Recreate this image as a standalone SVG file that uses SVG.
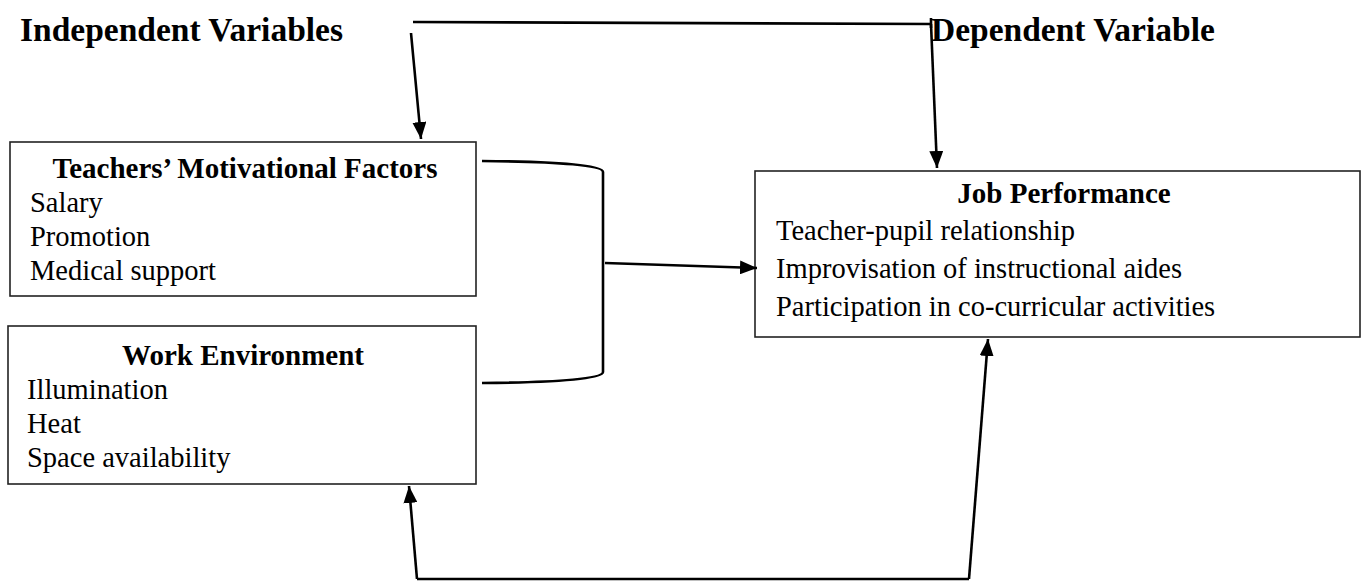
<svg xmlns="http://www.w3.org/2000/svg" width="1365" height="584" viewBox="0 0 1365 584">
<defs>
<marker id="ah" viewBox="0 0 17 14" refX="17" refY="7" markerWidth="17" markerHeight="14" markerUnits="userSpaceOnUse" orient="auto">
<path d="M0,0 L17,7 L0,14 Z" fill="#000"/>
</marker>
<style>
.box{fill:#fff;stroke:#222;stroke-width:1.6}
.ln{fill:none;stroke:#000;stroke-width:2.6}
.arr{fill:none;stroke:#000;stroke-width:2.6;marker-end:url(#ah)}
.lbl{font-family:"Liberation Serif","Times New Roman",serif;font-weight:bold;font-size:33.5px;fill:#000}
.hd{font-family:"Liberation Serif","Times New Roman",serif;font-weight:bold;font-size:29px;fill:#000;text-anchor:middle}
.tx{font-family:"Liberation Serif","Times New Roman",serif;font-size:28.5px;fill:#000}
</style>
</defs>
<rect width="1365" height="584" fill="#fff"/>
<text class="lbl" x="20" y="41">Independent Variables</text>
<text class="lbl" x="931" y="41">Dependent Variable</text>
<g id="motivation">
<rect class="box" x="10" y="142" width="466" height="154"/>
<text class="hd" x="245" y="178">Teachers’ Motivational Factors</text>
<text class="tx" x="30" y="212">Salary</text>
<text class="tx" x="30" y="246">Promotion</text>
<text class="tx" x="30" y="280">Medical support</text>
</g>
<g id="environment">
<rect class="box" x="8" y="326" width="468" height="158"/>
<text class="hd" x="243" y="365">Work Environment</text>
<text class="tx" x="27" y="399">Illumination</text>
<text class="tx" x="27" y="433">Heat</text>
<text class="tx" x="27" y="467">Space availability</text>
</g>
<g id="performance">
<rect class="box" x="755" y="171" width="605" height="166"/>
<text class="hd" x="1064" y="203">Job Performance</text>
<text class="tx" x="776" y="240">Teacher-pupil relationship</text>
<text class="tx" x="776" y="278">Improvisation of instructional aides</text>
<text class="tx" x="776" y="316">Participation in co-curricular activities</text>
</g>
<g id="connectors">
<path class="ln" d="M413,22 L931,24"/>
<path class="ln" d="M931,18 L931,28" stroke-width="1.5"/>
<path class="arr" d="M411,33 L421,139"/>
<path class="arr" d="M931,24 L937,168"/>
<path class="ln" d="M482,161 Q603,162 603,172 L603,372 Q603,382 482,383"/>
<path class="arr" d="M605,263 L757,268"/>
<path class="ln" d="M417,579 L969,579"/>
<path class="arr" d="M417,579 L409,486"/>
<path class="arr" d="M969,579 L988,339"/>
</g>
</svg>
